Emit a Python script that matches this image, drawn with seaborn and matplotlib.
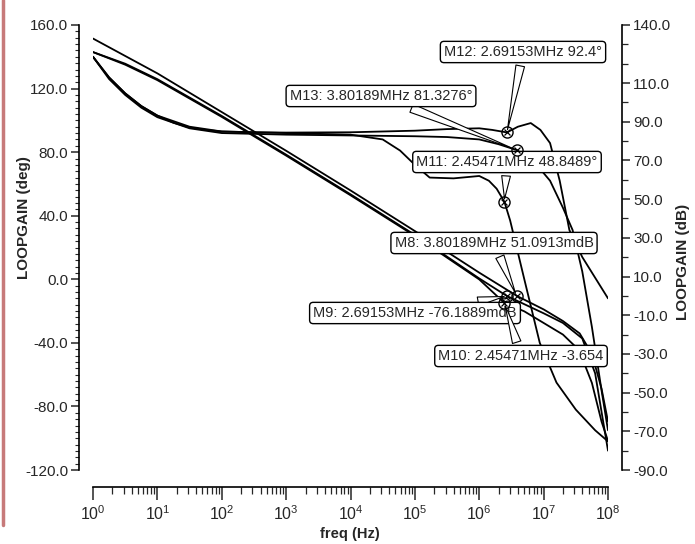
import numpy as np
import pandas as pd
import matplotlib
matplotlib.use("Agg")
import matplotlib.pyplot as plt
import seaborn as sns
from matplotlib.ticker import FixedLocator, MultipleLocator, LogLocator, NullFormatter, FormatStrFormatter
from matplotlib.lines import Line2D

# ---- phase curves (deg), x given as log10(freq) ----
p1_logf = [0, 0.25, 0.5, 0.75, 1.0, 1.25, 1.5, 1.75, 2.0, 2.5, 3, 4, 5, 5.5, 6.0, 6.2, 6.43, 6.6, 6.8, 6.95, 7.1, 7.25, 7.4, 7.6, 7.8, 8.0]
p1_deg = [140, 127, 117, 109, 103, 98.5, 95.5, 94, 93, 92.5, 92.3, 92.5, 93.5, 94.5, 95, 94, 92.4, 96, 98.3, 94, 85.7, 62, 31, 14, 1, -12]

p2_logf = [0, 0.25, 0.5, 0.75, 1.0, 1.5, 2.0, 3, 4, 5, 5.5, 6.0, 6.3, 6.58, 6.83, 7.1, 7.3, 7.45, 7.6, 7.75, 7.9, 8.0]
p2_deg = [140, 126, 116, 108, 102, 95, 92, 91, 90.5, 90, 89.5, 88, 85, 81.3276, 75, 62, 45, 31, 5, -30, -70, -95]

p3_logf = [0, 0.25, 0.5, 0.75, 1.0, 1.5, 2.0, 3, 4, 4.5, 4.77, 5.0, 5.23, 5.6, 6.0, 6.15, 6.27, 6.39, 6.48, 6.7, 6.94, 7.2, 7.5, 7.8, 8.0]
p3_deg = [140, 127, 117, 109, 103, 96, 93, 92, 91, 88, 81, 72, 64, 63.5, 65, 62, 57, 48.8489, 37, 0, -40, -65, -82, -95, -102]

# ---- magnitude curves (dB) ----
ma_logf = [0, 0.5, 1, 1.5, 2, 3, 4, 5, 6, 6.58, 7.0, 7.3, 7.56, 7.75, 7.9, 8.0]
ma_db = [133, 124, 115, 105, 95, 75, 54.5, 33.5, 12, 0.0511, -7, -13, -19.4, -30, -48, -65]

mb_logf = [0, 0.5, 1, 1.5, 2, 3, 4, 5, 6, 6.43, 7.0, 7.3, 7.6, 7.8, 7.95, 8.0]
mb_db = [126, 120, 112, 102.5, 93, 73, 52.5, 31.5, 9, -0.0762, -9, -14, -22, -40, -70, -80]

mc_logf = [0, 0.5, 1, 1.5, 2, 3, 4, 5, 6, 6.39, 6.7, 7.0, 7.3, 7.55, 7.75, 7.9, 8.0]
mc_db = [126, 119.5, 111.5, 102, 92.5, 72.5, 52, 31, 8.5, -3.654, -8, -14, -20, -28, -45, -65, -75]

# ---- markers ----
phase_markers = ["M12: 2.69153MHz 92.4°", "M13: 3.80189MHz 81.3276°", "M11: 2.45471MHz 48.8489°"]
phase_freq = [2.69153e6, 3.80189e6, 2.45471e6]
phase_val = [92.4, 81.3276, 48.8489]

mag_markers = ["M8: 3.80189MHz 51.0913mdB", "M9: 2.69153MHz -76.1889mdB", "M10: 2.45471MHz -3.654"]
mag_freq = [3.80189e6, 2.69153e6, 2.45471e6]
mag_val = [0.0510913, -0.0761889, -3.654]

left_ticks = [-120, -80, -40, 0, 40, 80, 120, 160]
right_ticks = [140, 110, 90, 70, 50, 30, 10, -10, -30, -50, -70, -90]


def to_df(logf, vals):
    return pd.DataFrame({"freq": 10 ** np.array(logf, dtype=float), "val": vals})


sns.set_style("ticks")
plt.rcParams["font.family"] = ["Liberation Sans", "DejaVu Sans"]
plt.rcParams["axes.unicode_minus"] = False

W, H = 695, 544
fig = plt.figure(figsize=(W / 100, H / 100), dpi=100)
ax = fig.add_axes([93 / W, 74 / H, 515 / W, 445 / H])
ax2 = ax.twinx()

for logf, vals in [(p1_logf, p1_deg), (p2_logf, p2_deg), (p3_logf, p3_deg)]:
    sns.lineplot(data=to_df(logf, vals), x="freq", y="val", ax=ax, color="black", lw=1.3, estimator=None)
for logf, vals in [(ma_logf, ma_db), (mb_logf, mb_db), (mc_logf, mc_db)]:
    sns.lineplot(data=to_df(logf, vals), x="freq", y="val", ax=ax2, color="black", lw=1.3, estimator=None)

ax.set_xscale("log")
ax.set_xlim(1, 1e8)
ax.set_ylim(-120, 160)
ax2.set_ylim(-90, 140)

# spines
for s in ["top", "right"]:
    ax.spines[s].set_visible(False)
for s in ["top", "left", "bottom"]:
    ax2.spines[s].set_visible(False)
ax.spines["left"].set_position(("outward", 10))
ax.spines["bottom"].set_position(("outward", 12))
ax2.spines["right"].set_position(("outward", 10))
for sp in [ax.spines["left"], ax.spines["bottom"], ax2.spines["right"]]:
    sp.set_linewidth(1.2)
    sp.set_color("black")

# ticks
ax.xaxis.set_major_locator(LogLocator(base=10, numticks=12))
ax.xaxis.set_minor_locator(LogLocator(base=10, subs=np.arange(2, 10), numticks=12))
ax.xaxis.set_minor_formatter(NullFormatter())
ax.yaxis.set_major_locator(FixedLocator(left_ticks))
ax.yaxis.set_minor_locator(MultipleLocator(4))
ax.yaxis.set_major_formatter(FormatStrFormatter("%.1f"))
ax2.yaxis.set_major_locator(FixedLocator(right_ticks))
ax2.yaxis.set_minor_locator(MultipleLocator(10))
ax2.yaxis.set_major_formatter(FormatStrFormatter("%.1f"))

ax.tick_params(axis="x", which="major", length=9, width=1.1, labelsize=11.5, pad=4, direction="out")
ax.tick_params(axis="x", which="minor", length=5, width=0.9)
ax.tick_params(axis="y", which="major", length=6, width=1.1, labelsize=11, pad=2)
ax.tick_params(axis="y", which="minor", length=3, width=0.8)
ax2.tick_params(axis="y", which="major", length=6, width=1.1, labelsize=11, pad=2)
ax2.tick_params(axis="y", which="minor", length=4, width=0.9)

ax.set_xlabel("freq (Hz)", fontsize=10.5, fontweight="bold")
ax.set_ylabel("LOOPGAIN (deg)", fontsize=11, fontweight="bold")
ax2.set_ylabel("LOOPGAIN (dB)", fontsize=11, fontweight="bold", rotation=90)
ax.xaxis.set_label_coords((350 - 93) / 515, (544 - 527 - 74) / 445)
ax.yaxis.set_label_coords((31 - 93) / 515, (544 - 218 - 74) / 445)
ax2.yaxis.set_label_coords((676 - 93) / 515, (544 - 262 - 74) / 445)

# markers: circle with a cross
box = dict(boxstyle="round,pad=0.25,rounding_size=0.25", fc="white", ec="black", lw=1.0)
wedge = dict(arrowstyle="wedge,tail_width=0.6,shrink_factor=0.5", fc="white", ec="black", lw=0.8)

phase_text_px = [(523, 52), (381, 96), (507, 162)]
mag_text_px = [(494, 243), (415, 313), (521, 356)]

for axis, labels, fx, vy, pos in [(ax, phase_markers, phase_freq, phase_val, phase_text_px),
                                 (ax2, mag_markers, mag_freq, mag_val, mag_text_px)]:
    for lab, f, v, (px, py) in zip(labels, fx, vy, pos):
        axis.annotate(lab, xy=(f, v), xytext=(px, H - py), textcoords="figure pixels",
                      ha="center", va="center", fontsize=10.5, bbox=box, arrowprops=wedge, zorder=5)
        axis.plot([f], [v], marker="o", ms=8, mfc="none", mec="black", mew=1.0, zorder=6)
        axis.plot([f], [v], marker="x", ms=5, mec="black", mew=0.9, zorder=6)

# screenshot border on the left
fig.add_artist(Line2D([3 / W, 3 / W], [(H - 525) / H, 1], color="#c77a7a", lw=2.5))

fig.savefig("out.png", dpi=100)
